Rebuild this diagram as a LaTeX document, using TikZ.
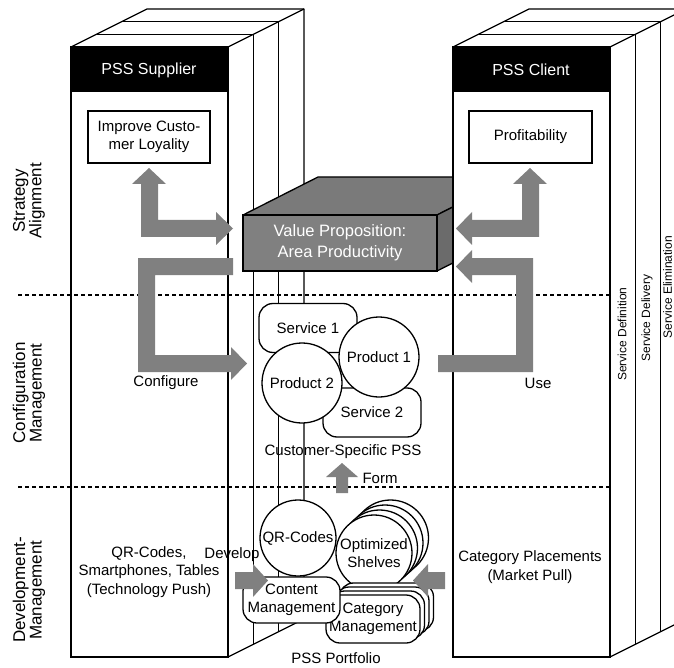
\documentclass[tikz,border=0pt]{standalone}
\usepackage{fontspec}
\setmainfont{Liberation Sans}
\definecolor{arrowgray}{gray}{0.5}
\definecolor{vpfront}{gray}{0.5}
\definecolor{vptop}{gray}{0.48}
\definecolor{vpside}{gray}{0.42}

% a sliced column: front face with black header, three slices in depth
\newcommand{\drawpillar}[1]{%
  \begin{scope}[shift={#1}]
    \fill[white] (0,0) -- (76,-38) -- (233,-38) -- (233,572) -- (157,610) -- (0,610) -- cycle;
    \draw[edge] (0,0) -- (76,-38) -- (233,-38) -- (233,572) -- (157,610);
    \draw[edge] (157,0) -- (233,-38);
    \draw[thinedge] (25.33,-12.67) -- (182.33,-12.67) -- (182.33,597.33);
    \draw[thinedge] (50.67,-25.33) -- (207.67,-25.33) -- (207.67,584.67);
    \fill[black] (0,0) rectangle (157,45);
    \draw[frontedge] (0,0) rectangle (157,610);
  \end{scope}}

\begin{document}
\begin{tikzpicture}[x=1pt,y=-1pt,
  font=\fontsize{15}{18.5}\selectfont,
  edge/.style={line width=1.3pt,line join=round},
  thinedge/.style={line width=1pt},
  frontedge/.style={line width=1.6pt},
  headtext/.style={text=white,font=\fontsize{16}{19}\selectfont},
  plainbox/.style={draw,line width=1.3pt,fill=white,align=center,inner sep=0pt},
  roundbox/.style={draw,line width=1.3pt,fill=white,rounded corners=14pt,
    minimum width=98pt,minimum height=49pt,inner sep=0pt,align=center},
  disc/.style={draw,circle,line width=1.3pt,fill=white,minimum size=80pt,
    inner sep=0pt,align=center},
  sep/.style={line width=1.2pt,dash pattern=on 4pt off 3pt},
  blockarrow/.style={fill=arrowgray},
  sidelabel/.style={rotate=90,align=center,font=\fontsize{17}{16.5}\selectfont},
  phaselabel/.style={rotate=90,font=\fontsize{12}{13}\selectfont}]

\useasboundingbox (0,0) rectangle (674,668);
\clip (0,0) rectangle (674,668);

% supplier column
\drawpillar{(71,47)}

% value proposition block
\filldraw[fill=vptop,edge] (243,215) -- (318,177) -- (512,177) -- (437,215) -- cycle;
\filldraw[fill=vpside,edge] (437,215) -- (512,177) -- (512,233) -- (437,271) -- cycle;
\node[draw,fill=vpfront,line width=1.3pt,minimum width=194pt,minimum height=56pt,
  text=white,align=center,inner sep=0pt,font=\fontsize{16.5}{21}\selectfont]
  (valueprop) at (340,243) {Value Proposition:\\Area Productivity};

% client column
\drawpillar{(453,47)}

% phase separators
\draw[sep] (18,295) -- (610,295);
\draw[sep] (18,487) -- (610,487);

% headers and goals
\node[headtext] (supplier) at (149,70) {PSS Supplier};
\node[headtext] (client) at (531,70) {PSS Client};
\node[plainbox,minimum width=122pt,minimum height=52pt] (loyality) at (149,137)
  {Improve Custo-\\mer Loyality};
\node[plainbox,minimum width=123pt,minimum height=52pt] (profit) at (530.5,137)
  {Profitability};

% customer-specific PSS
\node[roundbox] (serviceone) at (308,328) {Service 1};
\node[roundbox] (servicetwo) at (372,412.5) {Service 2};
\node[disc] (producttwo) at (302,383) {Product 2};
\node[disc] (productone) at (379,357) {Product 1};
\node (cspss) at (343,452) {Customer-Specific PSS};

% PSS portfolio
\foreach \k in {3,2,1}
  \node[disc,minimum size=76pt,xshift=5.5*\k pt,yshift=5*\k pt] (shelf\k) at (374,553) {};
\node[disc,minimum size=76pt] (shelves) at (374,553) {Optimized\\Shelves};
\foreach \k in {3,2,1}
  \node[roundbox,minimum width=94pt,minimum height=48pt,xshift=4.5*\k pt,yshift=4*\k pt]
    (catm\k) at (373,619) {};
\node[roundbox,minimum width=94pt,minimum height=48pt] (catmgmt) at (373,619)
  {Category\\Management};
\node[disc,minimum size=76pt] (qrcodes) at (298,538) {QR-Codes};
\node[roundbox,minimum width=97pt,minimum height=46pt] (contentmgmt) at (291.5,600)
  {Content\\Management};
\node (portfolio) at (336,658) {PSS Portfolio};

% block arrows
\fill[blockarrow] (149,168) -- (166,184) -- (158,184) -- (158,220) -- (216,220)
  -- (216,212) -- (233,228.5) -- (216,245) -- (216,237) -- (141,237) -- (141,184)
  -- (132,184) -- cycle;
\fill[blockarrow] (233,258) -- (138,258) -- (138,372) -- (231,372) -- (231,380)
  -- (247,363.5) -- (231,347) -- (231,355) -- (155,355) -- (155,275) -- (233,275) -- cycle;
\fill[blockarrow] (530,168) -- (547,184) -- (539,184) -- (539,237) -- (472,237)
  -- (472,245) -- (456,228.5) -- (472,212) -- (472,220) -- (522,220) -- (522,184)
  -- (513,184) -- cycle;
\fill[blockarrow] (438,355) -- (516,355) -- (516,275) -- (472,275) -- (472,283)
  -- (456,266.5) -- (472,250) -- (472,258) -- (533,258) -- (533,372) -- (438,372) -- cycle;
\fill[blockarrow] (342,463) -- (358,477) -- (348,477) -- (348,493) -- (336,493)
  -- (336,477) -- (326,477) -- cycle;
\fill[blockarrow] (235,572) -- (253,572) -- (253,564) -- (268,580.5) -- (253,597)
  -- (253,589) -- (235,589) -- cycle;
\fill[blockarrow] (445,572) -- (428,572) -- (428,564) -- (413,580.5) -- (428,597)
  -- (428,589) -- (445,589) -- cycle;

% arrow labels
\node (configure) at (166,383) {Configure};
\node (use) at (538,383) {Use};
\node (form) at (380,478) {Form};
\node (develop) at (232,555) {Develop};

% drivers
\node[align=center] (push) at (149,572) {QR-Codes,\\Smartphones, Tables\\(Technology Push)};
\node[align=center] (pull) at (530,567) {Category Placements\\(Market Pull)};

% management levels
\node[sidelabel] (strategy) at (29,201) {Strategy\\Alignment};
\node[sidelabel] (configuration) at (29,393) {Configuration\\Management};
\node[sidelabel] (development) at (29,590) {Development-\\Management};

% service life cycle slices
\node[phaselabel] (definition) at (622,334) {Service Definition};
\node[phaselabel] (delivery) at (647,318) {Service Delivery};
\node[phaselabel] (elimination) at (667.5,287) {Service Elimination};
\end{tikzpicture}
\end{document}
